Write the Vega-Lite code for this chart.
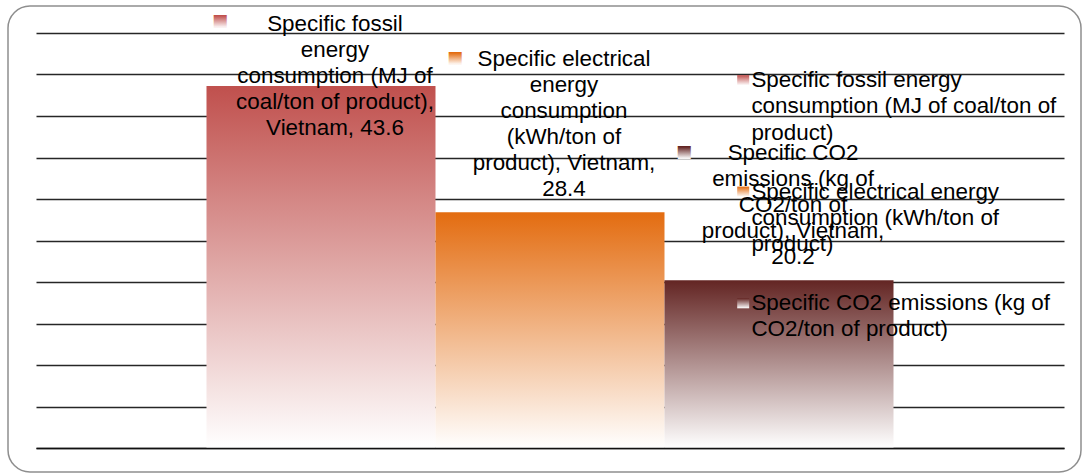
{
  "$schema": "https://vega.github.io/schema/vega-lite/v6.json",
  "width": 1073,
  "height": 466,
  "autosize": {"type": "none"},
  "padding": {"left": 8, "top": 6, "right": 2, "bottom": 2},
  "background": "white",
  "config": {
    "view": {"stroke": "#8e8e8e", "strokeWidth": 1.5, "cornerRadius": 22, "fill": "white"},
    "text": {"font": "Liberation Sans", "fontSize": 22.4}
  },
  "data": {
    "values": [
      {"series": "Specific fossil energy consumption (MJ of coal/ton of product)", "country": "Vietnam", "value": 43.6, "label": "Specific fossil\nenergy\nconsumption (MJ of\ncoal/ton of product),\nVietnam, "},
      {"series": "Specific electrical energy consumption (kWh/ton of product)", "country": "Vietnam", "value": 28.4, "label": "Specific electrical\nenergy\nconsumption\n(kWh/ton of\nproduct), Vietnam,\n"},
      {"series": "Specific CO2 emissions (kg of CO2/ton of product)", "country": "Vietnam", "value": 20.2, "label": "Specific CO2\nemissions (kg of\nCO2/ton of\nproduct), Vietnam,\n"}
    ]
  },
  "transform": [
    {"calculate": "split(datum.label + format(datum.value, '.1f'), '\\n')", "as": "lines"},
    {"calculate": "reverse(split(datum.label + format(datum.value, '.1f'), '\\n'))", "as": "linesUp"}
  ],
  "encoding": {
    "x": {
      "field": "series",
      "type": "nominal",
      "sort": null,
      "scale": {
        "domain": [
          "Specific fossil energy consumption (MJ of coal/ton of product)",
          "Specific electrical energy consumption (kWh/ton of product)",
          "Specific CO2 emissions (kg of CO2/ton of product)"
        ],
        "range": [28, 1056],
        "paddingInner": 0,
        "paddingOuter": 0.7445
      },
      "axis": {"labels": false, "ticks": false, "title": null, "domain": true, "domainColor": "#111111", "domainWidth": 1.6, "offset": -24, "grid": false, "zindex": 2}
    },
    "y": {
      "field": "value",
      "type": "quantitative",
      "scale": {"domain": [0, 50], "range": [442, 27], "nice": false},
      "axis": {"values": [0, 5, 10, 15, 20, 25, 30, 35, 40, 45, 50], "grid": true, "gridColor": "#262626", "gridWidth": 1.5, "labels": false, "ticks": false, "domain": false, "title": null}
    }
  },
  "layer": [
    {
      "mark": {"type": "bar"},
      "encoding": {
        "fill": {
          "field": "series",
          "type": "nominal",
          "scale": {
            "domain": [
              "Specific fossil energy consumption (MJ of coal/ton of product)",
              "Specific electrical energy consumption (kWh/ton of product)",
              "Specific CO2 emissions (kg of CO2/ton of product)"
            ],
            "range": [
              {"expr": "{gradient: 'linear', x1: 0, y1: 0, x2: 0, y2: 1, stops: [{offset: 0, color: '#c0504d'}, {offset: 1, color: '#ffffff'}]}"},
              {"expr": "{gradient: 'linear', x1: 0, y1: 0, x2: 0, y2: 1, stops: [{offset: 0, color: '#e36c10'}, {offset: 1, color: '#ffffff'}]}"},
              {"expr": "{gradient: 'linear', x1: 0, y1: 0, x2: 0, y2: 1, stops: [{offset: 0, color: '#632523'}, {offset: 1, color: '#ffffff'}]}"}
            ]
          },
          "legend": {
            "orient": "none",
            "legendX": 724,
            "legendY": 63,
            "title": null,
            "padding": 0,
            "symbolType": "M-1,-0.85H1V0.85H-1Z",
            "symbolSize": 144,
            "symbolStrokeWidth": 0,
            "labelFont": "Liberation Sans",
            "labelFontSize": 22.4,
            "labelColor": "#000000",
            "labelLimit": 600,
            "labelOffset": -3,
            "labelBaseline": "top",
            "rowPadding": 35.5,
            "labelExpr": "split(replace(replace(replace(replace(datum.label, ' consumption', '|consumption'), 'coal/ton of ', 'coal/ton of|'), 'kWh/ton of ', 'kWh/ton of|'), ' CO2/', '|CO2/'), '|')",
            "encode": {"labels": {"update": {"dy": {"value": -11}, "lineHeight": {"value": 26.3}}}}
          }
        }
      }
    },
    {
      "transform": [{"filter": "datum.value <= 40"}],
      "mark": {"type": "text", "baseline": "bottom", "align": "center", "dx": 14, "dy": -11.5, "lineHeight": -26, "color": "#000000"},
      "encoding": {"text": {"field": "linesUp"}}
    },
    {
      "transform": [{"filter": "datum.value > 40"}],
      "mark": {"type": "text", "baseline": "bottom", "align": "center", "dx": 14, "dy": -50.5, "lineHeight": 26, "color": "#000000"},
      "encoding": {"text": {"field": "lines"}}
    },
    {
      "transform": [{"filter": "datum.value > 40"}],
      "mark": {"type": "text", "text": "■", "baseline": "bottom", "align": "right", "font": "DejaVu Sans", "fontSize": 17, "dx": -93, "dy": -56.5},
      "encoding": {
        "fill": {"value": {"gradient": "linear", "x1": 0, "y1": 0, "x2": 0, "y2": 1, "stops": [{"offset": 0, "color": "#c0504d"}, {"offset": 0.3, "color": "#c0504d"}, {"offset": 0.85, "color": "#f8ecec"}, {"offset": 1, "color": "#ffffff"}]}}
      }
    },
    {
      "transform": [{"filter": "datum.value <= 40 && length(datum.lines) == 6"}],
      "mark": {"type": "text", "text": "■", "baseline": "bottom", "align": "right", "font": "DejaVu Sans", "fontSize": 17, "dx": -87, "dy": -145.5},
      "encoding": {
        "fill": {"value": {"gradient": "linear", "x1": 0, "y1": 0, "x2": 0, "y2": 1, "stops": [{"offset": 0, "color": "#e36c10"}, {"offset": 0.3, "color": "#e36c10"}, {"offset": 0.85, "color": "#fdf3ec"}, {"offset": 1, "color": "#ffffff"}]}}
      }
    },
    {
      "transform": [{"filter": "datum.value <= 40 && length(datum.lines) == 5"}],
      "mark": {"type": "text", "text": "■", "baseline": "bottom", "align": "right", "font": "DejaVu Sans", "fontSize": 17, "dx": -87, "dy": -119.5},
      "encoding": {
        "fill": {"value": {"gradient": "linear", "x1": 0, "y1": 0, "x2": 0, "y2": 1, "stops": [{"offset": 0, "color": "#632523"}, {"offset": 0.3, "color": "#632523"}, {"offset": 0.85, "color": "#f3f0f0"}, {"offset": 1, "color": "#ffffff"}]}}
      }
    }
  ]
}
